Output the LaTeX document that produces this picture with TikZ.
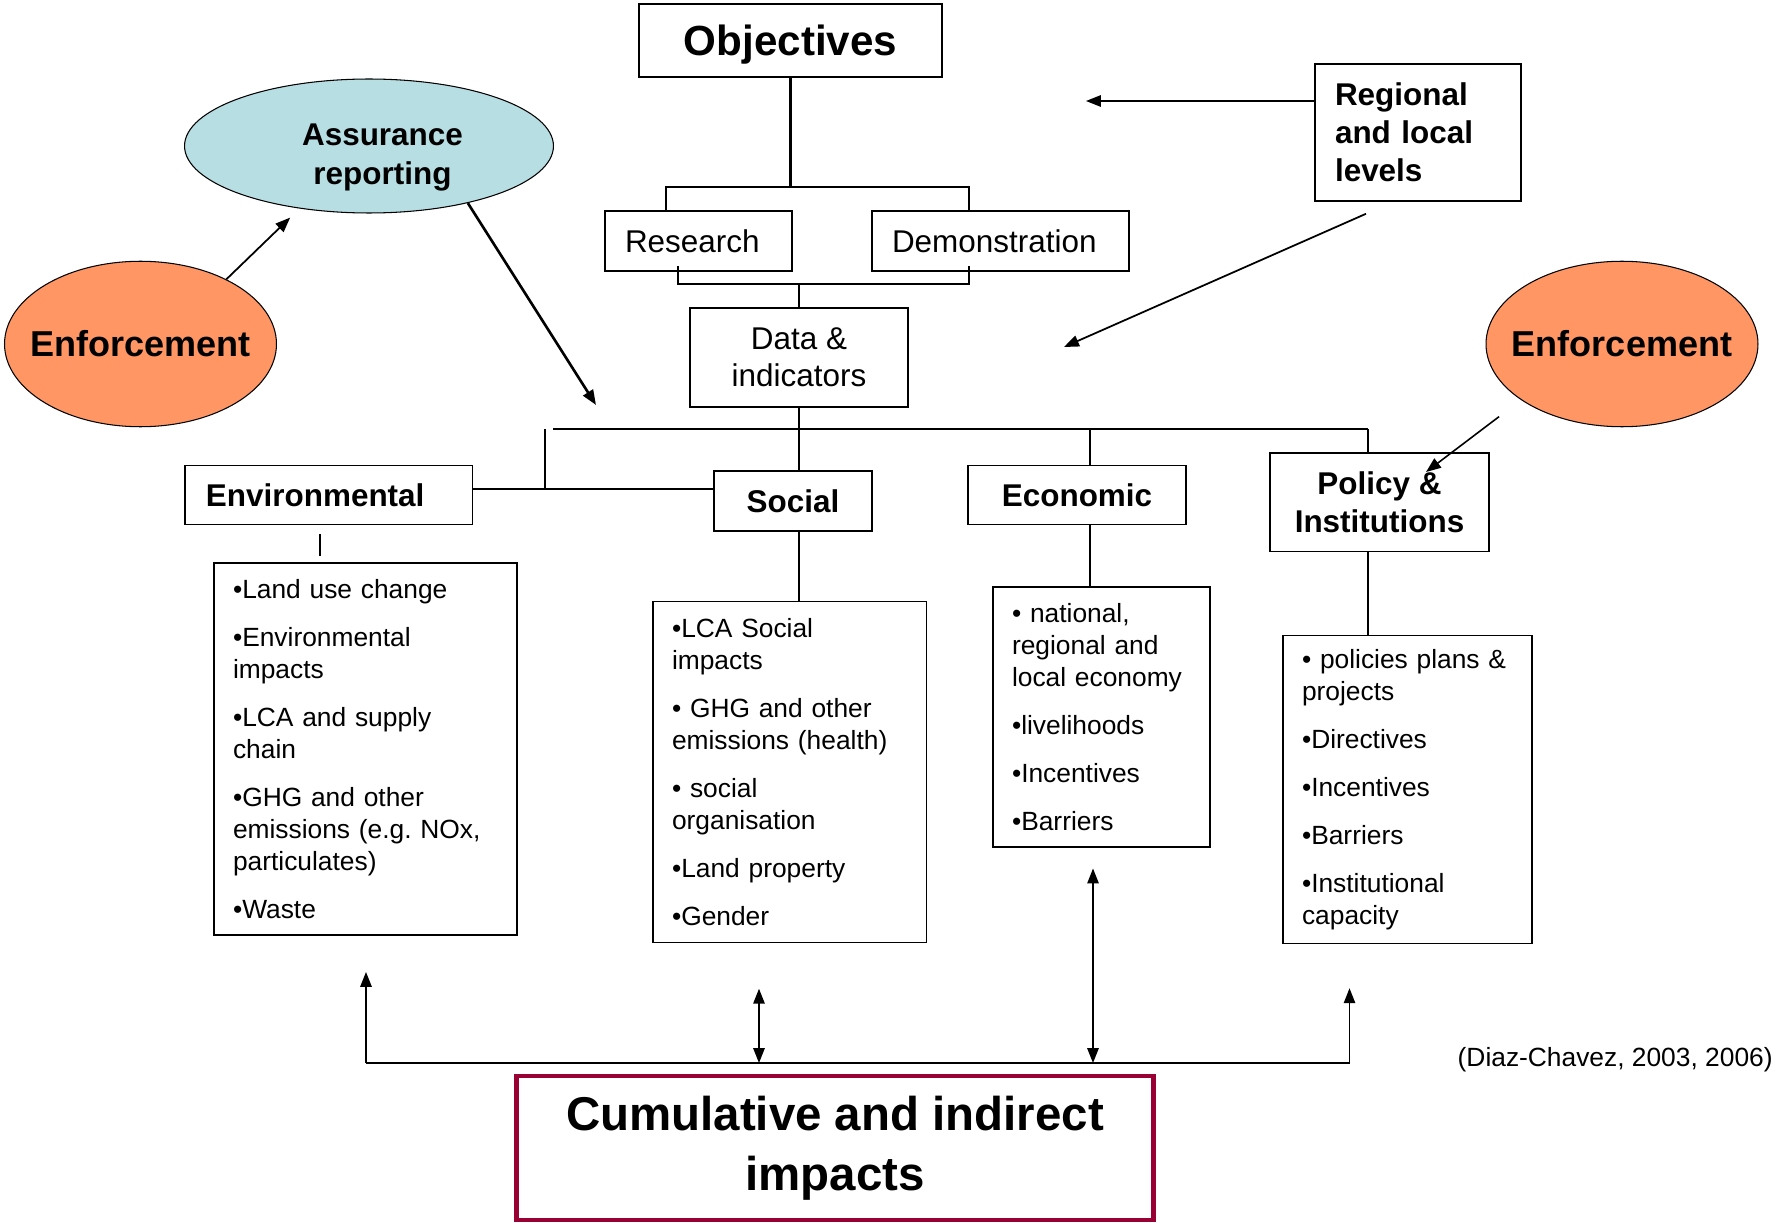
\documentclass[tikz,border=0pt]{standalone}
\usepackage{fontspec}
\setmainfont{Liberation Sans}
\usetikzlibrary{arrows.meta,shapes.geometric}
\definecolor{enforceorange}{RGB}{255,150,100}
\definecolor{assureblue}{RGB}{183,222,226}
\definecolor{cumred}{RGB}{153,0,51}
\newcommand{\itemgap}{9.2pt}
\tikzset{
  box/.style={draw, line width=0.9pt, inner sep=0pt, align=center, font=\fontsize{17.9}{21}\selectfont},
  headbox/.style={box, font=\fontsize{17.9}{21.6}\selectfont\bfseries},
  listbox/.style={draw, line width=0.9pt, inner xsep=0.38cm, inner ysep=0pt, align=left, font=\fontsize{15}{18.2}\selectfont},
  blob/.style={ellipse, draw, line width=0.6pt, inner sep=0pt},
  blobtext/.style={align=center, font=\fontsize{17.9}{22}\selectfont\bfseries},
  link/.style={line width=1.2pt},
  arr/.style={line width=1pt, -{Triangle[length=8.5pt,width=6.5pt]}},
  darr/.style={line width=0.9pt, {Triangle[length=8.5pt,width=6.5pt]}-{Triangle[length=8.5pt,width=6.5pt]}}
}

\begin{document}
\begin{tikzpicture}[x=0.02cm,y=-0.02cm]
    \useasboundingbox (0,0) rectangle (1776,1223);

    % Top of the tree
    \node[box, minimum width=6.06cm, minimum height=1.46cm, text depth=0pt, font=\fontsize{24}{28}\selectfont\bfseries] (obj) at (790.5,40.5) {Objectives};
    \node[box, text width=2.94cm, inner xsep=0.4cm, align=left, minimum height=1.2cm] (res) at (698.5,241) {Research};
    \node[box, text width=4.34cm, inner xsep=0.4cm, align=left, minimum height=1.2cm] (demo) at (1000.5,241) {Demonstration};
    \node[box, minimum width=4.36cm, minimum height=1.98cm] (data) at (799,357.5) {Data \&\\indicators};
    \node[headbox, text width=3.32cm, inner xsep=0.4cm, align=left, minimum height=2.74cm] (reg) at (1418,132.5) {Regional\\and local\\levels};

    % Ellipses on both sides
    \node[blob, fill=assureblue, minimum width=7.38cm, minimum height=2.68cm,
        label={[blobtext, xshift=0.27cm, yshift=-0.23cm]center:Assurance\\reporting}] (ass) at (369,146) {};
    \node[blob, fill=enforceorange, minimum width=5.44cm, minimum height=3.31cm,
        label={[blobtext, font=\fontsize{20.5}{24}\selectfont\bfseries]center:Enforcement}] (enfL) at (140.5,344) {};
    \node[blob, fill=enforceorange, minimum width=5.44cm, minimum height=3.31cm,
        label={[blobtext, font=\fontsize{20.5}{24}\selectfont\bfseries]center:Enforcement}] (enfR) at (1622,344) {};

    % The four headings
    \node[headbox, text width=4.91cm, inner xsep=0.42cm, align=left, minimum height=1.18cm] (env) at (328.7,495) {Environmental};
    \node[headbox, minimum width=3.16cm, minimum height=1.2cm] (soc) at (793,501) {Social};
    \node[headbox, minimum width=4.36cm, minimum height=1.18cm] (eco) at (1077,495) {Economic};
    \node[headbox, minimum width=4.38cm, minimum height=1.97cm] (pol) at (1379.5,502.4) {Policy \&\\Institutions};

    % The lists
    \node[listbox, text width=5.30cm, minimum height=7.45cm] (envlist) at (365.5,749) {%
        •Land use change\\[\itemgap]
        •Environmental\\impacts\\[\itemgap]
        •LCA and supply\\chain\\[\itemgap]
        •GHG and other\\emissions (e.g.\ NOx,\\particulates)\\[\itemgap]
        •Waste};
    \node[listbox, text width=4.71cm, minimum height=6.82cm] (soclist) at (789.75,772) {%
        •LCA Social\\impacts\\[\itemgap]
        • GHG and other\\emissions (health)\\[\itemgap]
        • social\\organisation\\[\itemgap]
        •Land property\\[\itemgap]
        •Gender};
    \node[listbox, text width=3.58cm, minimum height=5.21cm] (ecolist) at (1101.5,717) {%
        • national,\\regional and\\local economy\\[\itemgap]
        •livelihoods\\[\itemgap]
        •Incentives\\[\itemgap]
        •Barriers};
    \node[listbox, text width=4.22cm, minimum height=6.16cm] (pollist) at (1407.5,789.5) {%
        • policies plans \&\\projects\\[\itemgap]
        •Directives\\[\itemgap]
        •Incentives\\[\itemgap]
        •Barriers\\[\itemgap]
        •Institutional\\capacity};

    % Bottom box and source
    \node[draw=cumred, line width=2.8pt, minimum width=12.74cm, minimum height=2.88cm, align=center, font=\fontsize{27}{34}\selectfont\bfseries] (cum) at (835,1148) {Cumulative and indirect\\impacts};
    \node[anchor=east, inner sep=0pt, font=\fontsize{15}{18}\selectfont] (src) at (1773,1060) {(Diaz-Chavez, 2003, 2006)};

    % Brackets round research and demonstration
    \coordinate (j1) at (666,187);
    \coordinate (j2) at (969,187);
    \coordinate (j3) at (678,284);
    \coordinate (j4) at (969,284);
    \draw[link] (obj) -- (obj |- j1);
    \draw[link] (res.north -| j1) -- (j1) -- (j2) -- (demo.north -| j2);
    \draw[link] ([yshift=0.12cm]res.south -| j3) -- (j3) -- (j4) -- ([yshift=0.12cm]demo.south -| j4);
    \draw[link] (data.north) -- (data.north |- j4);

    % Bus line to the four headings
    \coordinate (busL) at (553,429);
    \coordinate (busR) at (1368,429);
    \coordinate (ecoX) at (1090,429);
    \coordinate (k) at (545,489);
    \coordinate (envX) at (320,0);
    \draw[line width=1.7pt] (busL) -- (busR);
    \draw[link] (data.south) -- (data.south |- soc.north);
    \draw[line width=1pt] (k |- busL) -- (k);
    \draw[line width=1pt] (env.east |- k) -- (soc.west |- k);
    \draw[link] (ecoX) -- (ecoX |- eco.north);
    \draw[line width=1pt] (busR) -- (busR |- pol.north);

    % Headings down to the lists
    \draw[line width=0.9pt, shorten <=0.18cm, shorten >=0.12cm] (envX |- env.south) -- (envX |- envlist.north);
    \draw[line width=0.9pt] (data.south |- soc.south) -- (data.south |- soclist.north);
    \draw[link] (ecoX |- eco.south) -- (ecoX |- ecolist.north);
    \draw[line width=0.9pt] (busR |- pol.south) -- (busR |- pollist.north);

    % Arrows at the top
    \coordinate (aTip) at (596,405);
    \coordinate (rTip) at (1086,101);
    \coordinate (dTip) at (1064,347);
    \coordinate (pTip) at (1426,472);
    \draw[arr, shorten >=0.26cm] (enfL.37) -- (ass.222);
    \draw[arr, line width=1.5pt] (ass.330) -- (aTip);
    \draw[arr, line width=0.9pt] (reg.west |- rTip) -- (rTip);
    \draw[arr] ([xshift=-1.04cm,yshift=-0.24cm]reg.south) -- (dTip);
    \draw[arr, line width=0.9pt, shorten <=0.55cm] (enfR.209) -- (pTip);

    % Arrows between the lists and the bottom box
    \coordinate (f1) at (366,1063);
    \coordinate (f2) at (759,1063);
    \coordinate (f3) at (1093,1063);
    \coordinate (f4) at (1349.5,1063);
    \draw[line width=1pt] (f1) -- (f4);
    \draw[arr, line width=0.9pt, shorten >=0.72cm] (f1) -- (f1 |- envlist.south);
    \draw[darr, shorten >=0.91cm] (f2) -- (f2 |- soclist.south);
    \draw[darr, shorten >=0.41cm] (f3) -- (f3 |- ecolist.south);
    \draw[arr, line width=0.9pt, shorten >=0.88cm] (f4) -- (f4 |- pollist.south);
\end{tikzpicture}
\end{document}
